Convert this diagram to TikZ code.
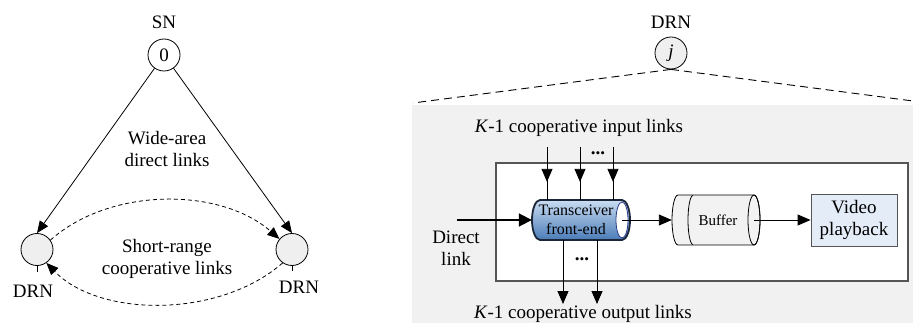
\documentclass[tikz,border=0pt]{standalone}
\usepackage{fontspec}
\setmainfont{Liberation Serif}
\usetikzlibrary{arrows.meta,shapes.geometric,decorations.markings}
\definecolor{panelgray}{HTML}{F1F1F1}
\definecolor{nodegray}{HTML}{EFEFEF}
\definecolor{bufgray}{HTML}{F2F2F2}
\definecolor{vidblue}{HTML}{E4ECF7}
\definecolor{cyltop}{HTML}{CADDF2}
\definecolor{cylbot}{HTML}{4A7BB7}
\definecolor{cylline}{HTML}{1B2738}
\definecolor{cylend}{HTML}{2B3C8C}
\definecolor{boxline}{HTML}{555555}
\begin{document}
\begin{tikzpicture}[x=1pt,y=-1pt,
  txt/.style={font=\fontsize{19}{22}\selectfont, align=center, inner sep=0pt},
  smalltxt/.style={font=\fontsize{16}{19}\selectfont, align=center, inner sep=0pt},
  buftxt/.style={font=\fontsize{15}{18}\selectfont, inner sep=0pt},
  netnode/.style={circle, draw, line width=0.8pt, minimum size=32pt, inner sep=0pt, font=\fontsize{19}{22}\selectfont},
  tri/.style={-{Triangle[length=12pt,width=10pt]}},
  link/.style={line width=0.8pt, tri},
  coop/.style={line width=0.8pt, dash pattern=on 4pt off 3pt, tri},
  zoomline/.style={line width=0.9pt, dash pattern=on 8pt off 5pt},
  midarrow/.style={line width=0.9pt, postaction={decorate},
    decoration={markings, mark=at position 0.66 with {\arrow{Triangle[length=13pt,width=11pt]}}}},
  flow/.style={line width=0.9pt, -{Triangle[length=13pt,width=11pt]}},
  dots/.style={font=\fontsize{19}{22}\selectfont\bfseries, inner sep=0pt, anchor=base}
]
\useasboundingbox (0,0) rectangle (913,323);

% ---------------- left: network ----------------
\node[txt] (snlab) at (164,22) {SN};
\node[netnode, fill=white] (n0) at (164,55) {0};
\node[netnode, fill=nodegray] (dl) at (37,249.5) {};
\node[netnode, fill=nodegray] (dr) at (292,249.5) {};
\node[txt] (dllab) at (33,291) {DRN};
\node[txt] (drlab) at (299,287) {DRN};
\draw[line width=0.6pt] (dl.south) -- ++(0,6);
\draw[line width=0.6pt] (dr.south) -- ++(0,5);

\draw[link] (n0) -- (dl.north);
\draw[link] (n0) -- (dr.north);
\draw[coop] (dl.35) .. controls (110,187) and (220,187) .. (dr.140);
\draw[coop] (dr.235) .. controls (220,318) and (100,318) .. (dl.-55);

\node[txt] (widelab) at (167,149) {Wide-area\\direct links};
\node[txt] (shortlab) at (167,259) {Short-range\\cooperative links};

% ---------------- right: DRN detail ----------------
\node[txt] (jlab) at (671,22) {DRN};
\node[netnode, fill=nodegray] (nj) at (671,53) {\textit{j}};
\fill[panelgray] (412,105) rectangle (913,323);
\coordinate (zl) at (413,103);
\coordinate (zr) at (913,101);
\draw[zoomline] (nj.south) -- (zl);
\draw[zoomline] (nj.south) -- (zr);

\node[draw=boxline, fill=white, line width=1.1pt, minimum width=412pt, minimum height=118pt, inner sep=0pt] (inbox) at (702,222) {};

\node[txt] (inlab) at (579,128) {\textit{K}-1 cooperative input links};
\node[txt] (outlab) at (583,314) {\textit{K}-1 cooperative output links};

% transceiver cylinder
\node[minimum width=98pt, minimum height=40pt, inner sep=0pt] (trx) at (581,220) {};
\draw[line width=1.8pt, draw=cylline, top color=cyltop, bottom color=cylbot]
  (622,200) -- (540,200) arc[start angle=90, end angle=270, x radius=8pt, y radius=20pt]
  -- (622,240) arc[start angle=270, end angle=450, x radius=8pt, y radius=20pt] -- cycle;
\node[ellipse, draw=cylend, fill=white, line width=0.8pt, minimum width=12pt, minimum height=36pt, inner sep=0pt] (trxend) at (622,220) {};
\node[smalltxt] (trxlab) at (576,219.5) {Transceiver\\front-end};

% input links
\coordinate (in1) at (547,147);
\coordinate (in2) at (580,147);
\coordinate (in3) at (613,147);
\draw[midarrow] (in1) -- (in1 |- trx.north);
\draw[midarrow] (in2) -- (in2 |- trx.north);
\draw[midarrow] (in3) -- (in3 |- trx.north);
\node[dots] (indots) at (598,155) {...};

% output links
\coordinate (out1) at (563,304);
\coordinate (out2) at (597,304);
\draw[flow] (out1 |- trx.south) -- (out1);
\draw[flow] (out2 |- trx.south) -- (out2);
\node[dots] (outdots) at (582,260) {...};

% direct link
\coordinate (dsrc) at (457,220);
\draw[line width=1.8pt, -{Triangle[length=13pt,width=13pt]}] (dsrc) -- (trx.west);
\node[txt] (directlab) at (456,248.5) {Direct\\link};

% buffer
\node[minimum width=90pt, minimum height=50pt, inner sep=0pt] (buf) at (717,220) {};
\draw[line width=0.8pt, fill=bufgray]
  (754,195) -- (678,195) arc[start angle=90, end angle=270, x radius=6pt, y radius=25pt]
  -- (754,245) arc[start angle=270, end angle=450, x radius=6pt, y radius=25pt] -- cycle;
\draw[line width=0.8pt] (693,195.5) arc[start angle=90, end angle=270, x radius=5pt, y radius=24.5pt];
\node[ellipse, draw, line width=0.8pt, minimum width=12pt, minimum height=50pt, inner sep=0pt] (bufend) at (754,220) {};
\node[buftxt] (buflab) at (718,220) {Buffer};

% video playback
\node[draw=boxline, fill=vidblue, line width=0.9pt, minimum width=86pt, minimum height=52pt, inner sep=0pt, txt] (vid) at (854,220) {Video\\playback};

\draw[flow] (trxend.center) -- (buf.west);
\draw[flow] (bufend.center) -- (vid.west);
\end{tikzpicture}
\end{document}
